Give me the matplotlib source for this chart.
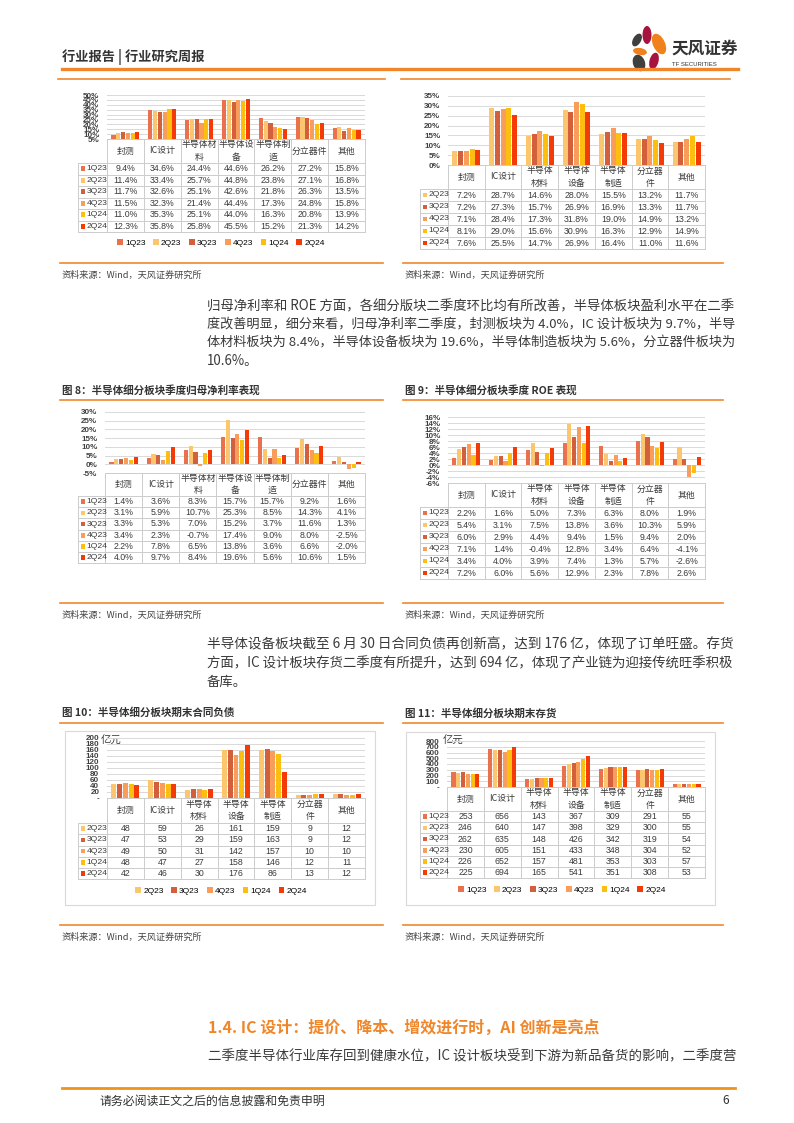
import numpy as np
import matplotlib.pyplot as plt
from matplotlib.patches import Ellipse, Rectangle

plt.rcParams['font.family'] = ['Noto Sans CJK SC', 'DejaVu Sans']

# ---- data ----
cats_a = ['封测', 'IC设计', '半导体材\n料', '半导体设\n备', '半导体制\n造', '分立器件', '其他']
cats_b = ['封测', 'IC设计', '半导体\n材料', '半导体\n设备', '半导体\n制造', '分立器\n件', '其他']

q6 = ['1Q23', '2Q23', '3Q23', '4Q23', '1Q24', '2Q24']
q5 = ['2Q23', '3Q23', '4Q23', '1Q24', '2Q24']

# chart at top left (%)
top_left = [
    [9.4, 34.6, 24.4, 44.6, 26.2, 27.2, 15.8],
    [11.4, 33.4, 25.7, 44.8, 23.8, 27.1, 16.8],
    [11.7, 32.6, 25.1, 42.6, 21.8, 26.3, 13.5],
    [11.5, 32.3, 21.4, 44.4, 17.3, 24.8, 15.8],
    [11.0, 35.3, 25.1, 44.0, 16.3, 20.8, 13.9],
    [12.3, 35.8, 25.8, 45.5, 15.2, 21.3, 14.2],
]
# chart at top right (%)
top_right = [
    [7.2, 28.7, 14.6, 28.0, 15.5, 13.2, 11.7],
    [7.2, 27.3, 15.7, 26.9, 16.9, 13.3, 11.7],
    [7.1, 28.4, 17.3, 31.8, 19.0, 14.9, 13.2],
    [8.1, 29.0, 15.6, 30.9, 16.3, 12.9, 14.9],
    [7.6, 25.5, 14.7, 26.9, 16.4, 11.0, 11.6],
]
# fig 8: net margin (%)
net_margin = [
    [1.4, 3.6, 8.3, 15.7, 15.7, 9.2, 1.6],
    [3.1, 5.9, 10.7, 25.3, 8.5, 14.3, 4.1],
    [3.3, 5.3, 7.0, 15.2, 3.7, 11.6, 1.3],
    [3.4, 2.3, -0.7, 17.4, 9.0, 8.0, -2.5],
    [2.2, 7.8, 6.5, 13.8, 3.6, 6.6, -2.0],
    [4.0, 9.7, 8.4, 19.6, 5.6, 10.6, 1.5],
]
# fig 9: ROE (%)
roe = [
    [2.2, 1.6, 5.0, 7.3, 6.3, 8.0, 1.9],
    [5.4, 3.1, 7.5, 13.8, 3.6, 10.3, 5.9],
    [6.0, 2.9, 4.4, 9.4, 1.5, 9.4, 2.0],
    [7.1, 1.4, -0.4, 12.8, 3.4, 6.4, -4.1],
    [3.4, 4.0, 3.9, 7.4, 1.3, 5.7, -2.6],
    [7.2, 6.0, 5.6, 12.9, 2.3, 7.8, 2.6],
]
# fig 10: contract liabilities (亿元)
contract_liab = [
    [48, 59, 26, 161, 159, 9, 12],
    [47, 53, 29, 159, 163, 9, 12],
    [49, 50, 31, 142, 157, 10, 10],
    [48, 47, 27, 158, 146, 12, 11],
    [42, 46, 30, 176, 86, 13, 12],
]
# fig 11: inventory (亿元)
inventory = [
    [253, 656, 143, 367, 309, 291, 55],
    [246, 640, 147, 398, 329, 300, 55],
    [262, 635, 148, 426, 342, 319, 54],
    [230, 605, 151, 433, 348, 304, 52],
    [226, 652, 157, 481, 353, 303, 57],
    [225, 694, 165, 541, 351, 308, 53],
]

colors = {'1Q23': '#E9714D', '2Q23': '#FBC66E', '3Q23': '#D2603C',
          '4Q23': '#F99D5B', '1Q24': '#FDBF0F', '2Q24': '#F43A06'}

ORANGE = '#F0862A'
TXT = '#3A3A3A'
GRID = '#D9D9D9'
CELL = '#CCCCCC'

W, H = 794, 1123
fig = plt.figure(figsize=(W / 100, H / 100), dpi=100)
page = fig.add_axes([0, 0, 1, 1])
page.set_xlim(0, W)
page.set_ylim(H, 0)
page.axis('off')


def add_ax(x0, y0, x1, y1):
    ax = fig.add_axes([x0 / W, 1 - y1 / H, (x1 - x0) / W, (y1 - y0) / H])
    ax.patch.set_visible(False)
    return ax


def pct(v):
    return f'{v:.1f}%'


def acct(v):
    return '-' if v == 0 else f'{v:g}'


def bar_table(box, label_x0, header_h, row_h, series, values, cats, ylim, yticks,
              tick_fmt, cell_fmt, legend_at=None, span=0.78):
    x0, y0, x1, y1 = box
    ax = add_ax(x0, y0, x1, y1)
    n = len(series)
    idx = np.arange(len(cats))
    slot = span / n
    handles = []
    for i, (name, vals) in enumerate(zip(series, values)):
        b = ax.bar(idx + (i - (n - 1) / 2) * slot, vals, slot * 0.86,
                   color=colors[name], label=name, zorder=3)
        handles.append(b)
    ax.set_xlim(-0.5, len(cats) - 0.5)
    ax.set_ylim(*ylim)
    ax.set_yticks(yticks)
    ax.set_yticklabels([tick_fmt(t) for t in yticks], fontsize=5.8,
                       fontweight='bold', color='#404040', family='Liberation Sans')
    ax.tick_params(length=0, pad=5.5)
    ax.set_xticks([])
    for s in ax.spines.values():
        s.set_visible(False)
    ax.grid(axis='y', color=GRID, lw=0.7, zorder=0)

    # table under the plot
    colw = (x1 - x0) / len(cats)
    ht = y1 + header_h
    yb = ht + row_h * n
    lw = 0.7
    page.plot([x0, x1], [y1, y1], color=CELL, lw=lw)
    page.plot([label_x0, x1], [ht, ht], color=CELL, lw=lw)
    for r in range(1, n + 1):
        page.plot([label_x0, x1], [ht + r * row_h] * 2, color=CELL, lw=lw)
    for c in range(len(cats) + 1):
        page.plot([x0 + c * colw] * 2, [y1, yb], color=CELL, lw=lw)
    page.plot([label_x0, label_x0], [ht, yb], color=CELL, lw=lw)
    for c, name in enumerate(cats):
        page.text(x0 + (c + 0.5) * colw, y1 + header_h / 2, name, ha='center',
                  va='center', fontsize=6.4, color=TXT, linespacing=1.45)
    for r, (name, vals) in enumerate(zip(series, values)):
        yc = ht + (r + 0.5) * row_h
        page.add_patch(Rectangle((label_x0 + 2.5, yc - 2.3), 4.6, 4.6,
                                 color=colors[name], lw=0))
        page.text(label_x0 + 8.5, yc, name, ha='left', va='center', fontsize=6.1,
                  color=TXT, family='Liberation Sans')
        for c, v in enumerate(vals):
            page.text(x0 + (c + 0.5) * colw, yc, cell_fmt(v), ha='center',
                      va='center', fontsize=6.3, color=TXT, family='Liberation Sans')
    if legend_at is not None:
        fig.legend(handles=handles, loc='center', ncol=n, frameon=False,
                   bbox_to_anchor=(legend_at[0] / W, 1 - legend_at[1] / H),
                   handlelength=0.7, handleheight=0.7,
                   handletextpad=0.25, columnspacing=0.9, borderpad=0,
                   prop={'family': 'Liberation Sans', 'size': 6})
    return ax


def source(x0, x1, y):
    page.plot([x0, x1], [y, y], color=ORANGE, lw=1.2)
    page.text(x0 + 2, y + 12, '资料来源：Wind，天风证券研究所', fontsize=6.6,
              color='#444444', va='center')


def fig_title(x0, x1, y, label):
    page.text(x0 + 2, y, label, fontsize=7.6, fontweight='bold', color='#333333',
              va='center')
    page.plot([x0, x1], [y + 10, y + 10], color=ORANGE, lw=1.2)


renderer = fig.canvas.get_renderer()


def paragraph(lines, x, y, dy, right, size=9.6):
    # full lines are fitted to the column width, the last one stays as is
    for i, line in enumerate(lines):
        t = page.text(x, y + i * dy, line, fontsize=size, color=TXT, va='center')
        if i < len(lines) - 1 or len(lines) == 1:
            w = t.get_window_extent(renderer).width
            t.set_fontsize(size * (right - x) / w)


# ---- header ----
page.text(62, 57, '行业报告 | 行业研究周报', fontsize=9.5, fontweight='bold',
          color='#333333', va='center')
page.plot([62, 738], [69, 69], color=ORANGE, lw=2.4)
page.plot([58, 385], [78.5, 78.5], color=ORANGE, lw=1.2)
page.plot([401, 730], [78.5, 78.5], color=ORANGE, lw=1.2)
# logo
for (cx, cy, w, h, ang, col) in [
        (647, 35, 9, 18, 0, '#A8123E'),
        (659, 44, 12, 22, -25, '#F0821E'),
        (637, 40, 8, 14, 30, '#3F3F3F'),
        (640, 51.5, 14, 7, 10, '#F0821E'),
        (654, 61, 9, 17, 15, '#A8123E'),
        (639, 63, 12, 17, -20, '#3F3F3F')]:
    page.add_patch(Ellipse((cx, cy), w, h, angle=ang, color=col, lw=0))
page.text(671, 49, '天风证券', fontsize=12, fontweight='bold', color='#333333',
          va='center')
page.text(672, 64.5, 'TF SECURITIES', fontsize=4.3, color='#333333', va='center',
          family='Liberation Sans')

# ---- top charts ----
bar_table((107, 95, 365, 139), 78, 24, 11.5, q6, top_left, cats_a, (5, 50),
          np.arange(5, 51, 5), lambda t: f'{t:g}%', pct, legend_at=(221, 243))
bar_table((448, 96, 705, 165), 420, 24, 12, q5, top_right, cats_b, (0, 35),
          np.arange(0, 36, 5), lambda t: f'{t:g}%', pct)
source(60, 383, 263)
source(403, 723, 263)

# ---- paragraph 1 ----
paragraph(['归母净利率和 ROE 方面，各细分版块二季度环比均有所改善，半导体板块盈利水平在二季',
           '度改善明显，细分来看，归母净利率二季度，封测板块为 4.0%，IC 设计板块为 9.7%，半导',
           '体材料板块为 8.4%，半导体设备板块为 19.6%，半导体制造板块为 5.6%，分立器件板块为',
           '10.6%。'], 207, 306, 18.3, 737)

# ---- figs 8 / 9 ----
fig_title(60, 383, 390, '图 8：半导体细分板块季度归母净利率表现')
fig_title(403, 723, 390, '图 9：半导体细分板块季度 ROE 表现')
bar_table((105, 412, 365, 473), 78, 23, 11.2, q6, net_margin, cats_a, (-5, 30),
          np.arange(-5, 31, 5), lambda t: f'{t:g}%', pct)
bar_table((448, 417, 705, 483), 420, 24, 12, q6, roe, cats_b, (-6, 16),
          np.arange(-6, 17, 2), lambda t: f'{t:g}%', pct)
source(60, 383, 603)
source(403, 723, 603)

# ---- paragraph 2 ----
paragraph(['半导体设备板块截至 6 月 30 日合同负债再创新高，达到 176 亿，体现了订单旺盛。存货',
           '方面，IC 设计板块存货二季度有所提升，达到 694 亿，体现了产业链为迎接传统旺季积极',
           '备库。'], 207, 644, 19, 737)

# ---- figs 10 / 11 ----
fig_title(60, 383, 713, '图 10：半导体细分板块期末合同负债')
fig_title(403, 723, 713, '图 11：半导体细分板块期末存货')
page.add_patch(Rectangle((65, 731), 310, 174, fill=False, ec=GRID, lw=0.8))
page.add_patch(Rectangle((406, 732), 309, 173, fill=False, ec=GRID, lw=0.8))
bar_table((107, 738, 365, 798), 78, 25, 11.25, q5, contract_liab, cats_b, (0, 200),
          np.arange(0, 201, 20), acct, lambda v: f'{v}', legend_at=(221, 891))
bar_table((447, 741, 705, 787), 420, 24, 11.2, q6, inventory, cats_b, (0, 800),
          np.arange(0, 801, 100), acct, lambda v: f'{v}', legend_at=(562, 890))
page.text(101, 741, '亿元', fontsize=7.5, color=TXT, va='center')
page.text(443, 741, '亿元', fontsize=7.5, color=TXT, va='center')
source(60, 383, 925)
source(403, 723, 925)

# ---- section ----
page.text(208, 1028, '1.4. IC 设计：提价、降本、增效进行时，AI 创新是亮点',
          fontsize=11.5, fontweight='bold', color='#F0862A', va='center')
paragraph(['二季度半导体行业库存回到健康水位，IC 设计板块受到下游为新品备货的影响，二季度营'],
          208, 1056, 19, 737)

# ---- footer ----
page.plot([62, 735], [1088, 1088], color='#F0921E', lw=2)
page.text(100, 1101, '请务必阅读正文之后的信息披露和免责申明', fontsize=8.6,
          color='#333333', va='center')
page.text(722, 1101, '6', fontsize=8.6, color='#333333', va='center')

fig.savefig('out.png', dpi=100)
